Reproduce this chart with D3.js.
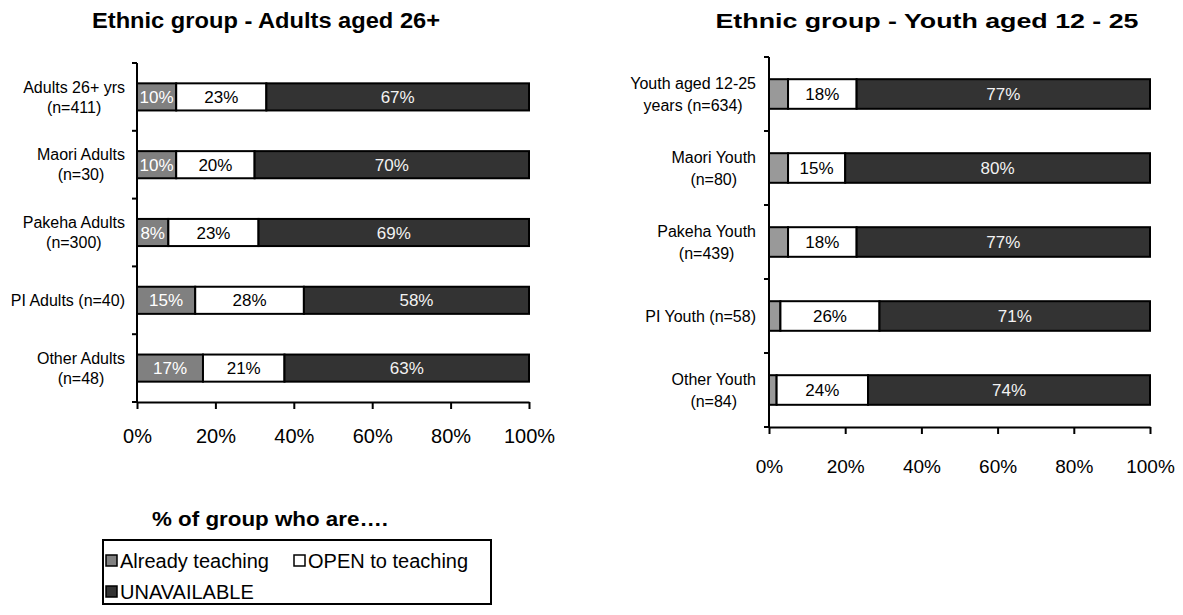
<!DOCTYPE html>
<html>
<head>
<meta charset="utf-8">
<script src="https://cdn.jsdelivr.net/npm/d3@7"></script>
<style>
  html, body { margin: 0; padding: 0; background: #fff; }
  svg { display: block; font-family: "Liberation Sans", Arial, sans-serif; }
</style>
</head>
<body>
<svg id="chart" width="1183" height="615"></svg>
<script>
// ---------- DATA ----------
const seriesNames = ["Already teaching", "OPEN to teaching", "UNAVAILABLE"];

const adultCategories = ["Adults 26+ yrs\n(n=411)", "Maori Adults\n(n=30)", "Pakeha Adults\n(n=300)", "PI Adults (n=40)", "Other Adults\n(n=48)"];
const adultAlready = [10, 10, 8, 15, 17];
const adultOpen = [23, 20, 23, 28, 21];
const adultUnavailable = [67, 70, 69, 58, 63];

const youthCategories = ["Youth aged 12-25\nyears (n=634)", "Maori Youth\n(n=80)", "Pakeha Youth\n(n=439)", "PI Youth (n=58)", "Other Youth\n(n=84)"];
const youthAlready = [5, 5, 5, 3, 2];
const youthOpen = [18, 15, 18, 26, 24];
const youthUnavailable = [77, 80, 77, 71, 74];

const xTickValues = [0, 20, 40, 60, 80, 100];
const xTickLabels = ["0%", "20%", "40%", "60%", "80%", "100%"];

const titles = ["Ethnic group - Adults aged 26+", "Ethnic group - Youth aged 12 - 25"];
const legendTitle = "% of group who are….";

// ---------- STYLE ----------
const colors = ["#808080", "#ffffff", "#333333"];
const youthColors = ["#999999", "#ffffff", "#333333"];
const labelColors = ["#ffffff", "#000000", "#f2f2f2"];

const svg = d3.select("#chart");

function drawPanel(cfg) {
  const rows = cfg.categories.map((c, i) => {
    const vals = [cfg.already[i], cfg.open[i], cfg.unavailable[i]];
    const total = d3.sum(vals);
    let cum = 0;
    const segs = vals.map((v, k) => {
      const s = { k, v, x0: cum / total * 100, x1: (cum + v) / total * 100 };
      cum += v;
      return s;
    });
    return { cat: c, segs };
  });

  const x = d3.scaleLinear().domain([0, 100]).range([cfg.x0, cfg.x1]);
  const y = d3.scaleBand().domain(cfg.categories).range([cfg.yTop, cfg.yBot])
    .paddingInner(0.6).paddingOuter(0.3);

  const g = svg.append("g");

  // title
  g.append("text").attr("x", cfg.titleX).attr("y", cfg.titleY)
    .attr("text-anchor", "middle").attr("font-weight", "bold")
    .attr("font-size", cfg.titleSize).attr("fill", "#000")
    .attr("textLength", cfg.titleW).attr("lengthAdjust", "spacingAndGlyphs")
    .text(cfg.title);

  // bars
  const rowG = g.selectAll("g.row").data(rows).join("g").attr("class", "row");
  rowG.selectAll("rect").data(d => d.segs.map(s => ({ ...s, cat: d.cat })))
    .join("rect")
    .attr("x", d => x(d.x0))
    .attr("y", d => y(d.cat))
    .attr("width", d => x(d.x1) - x(d.x0))
    .attr("height", y.bandwidth())
    .attr("fill", d => cfg.colors[d.k])
    .attr("stroke", "#000").attr("stroke-width", 2);

  rowG.selectAll("text.val").data(d => d.segs.map(s => ({ ...s, cat: d.cat })).filter(s => s.k > 0 || cfg.grayLabels))
    .join("text").attr("class", "val")
    .attr("x", d => (x(d.x0) + x(d.x1)) / 2)
    .attr("y", d => y(d.cat) + y.bandwidth() / 2)
    .attr("dy", "0.36em")
    .attr("text-anchor", "middle")
    .attr("font-size", cfg.valSize)
    .attr("fill", d => labelColors[d.k])
    .text(d => d.v + "%");

  // y axis line
  g.append("line").attr("x1", cfg.x0).attr("x2", cfg.x0)
    .attr("y1", cfg.yTop).attr("y2", cfg.yBot + 1)
    .attr("stroke", "#000").attr("stroke-width", 2);
  // y axis ticks at band boundaries
  const step = y.step();
  const bounds = cfg.categories.map(c => y(c) - (step - y.bandwidth()) / 2).concat([cfg.yBot]);
  g.selectAll("line.ytick").data(bounds).join("line").attr("class", "ytick")
    .attr("x1", cfg.x0 - 5).attr("x2", cfg.x0).attr("y1", d => d).attr("y2", d => d)
    .attr("stroke", "#000").attr("stroke-width", 2);

  // category labels (multi-line, centered block, right aligned)
  cfg.categories.forEach(c => {
    const lines = c.split("\n");
    const cy = y(c) + y.bandwidth() / 2;
    const t = g.append("text").attr("font-size", cfg.catSize).attr("fill", "#000")
      .attr("text-anchor", "middle");
    const spans = lines.map((ln, i) => t.append("tspan")
      .attr("y", cy + (i - (lines.length - 1) / 2) * cfg.lineH)
      .attr("dy", "0.36em").text(ln));
    const maxW = d3.max(spans, s => s.node().getComputedTextLength());
    spans.forEach(s => s.attr("x", cfg.labelRight - maxW / 2));
  });

  // x axis
  const xAxis = d3.axisBottom(x).tickValues(xTickValues)
    .tickFormat((d, i) => xTickLabels[i]).tickSize(7).tickSizeOuter(0);
  const ax = g.append("g").attr("transform", `translate(0,${cfg.yBot})`).call(xAxis);
  ax.select(".domain").attr("stroke", "#000").attr("stroke-width", 2);
  ax.selectAll(".tick line").attr("stroke", "#000").attr("stroke-width", 2);
  ax.selectAll(".tick text").attr("font-size", cfg.tickSize).attr("fill", "#000")
    .attr("font-family", "Liberation Sans, Arial, sans-serif")
    .attr("y", cfg.tickLabelDy).attr("dy", "0.36em");
  ax.attr("font-family", null);
}

drawPanel({
  title: titles[0], titleX: 266, titleY: 28, titleSize: 22, titleW: 348,
  categories: adultCategories, already: adultAlready, open: adultOpen, unavailable: adultUnavailable,
  x0: 137, x1: 529, yTop: 63, yBot: 402, colors: colors, grayLabels: true,
  valSize: 17, catSize: 16, lineH: 20, labelRight: 125, tickSize: 20, tickLabelDy: 34
});

drawPanel({
  title: titles[1], titleX: 927, titleY: 28, titleSize: 21, titleW: 423,
  categories: youthCategories, already: youthAlready, open: youthOpen, unavailable: youthUnavailable,
  x0: 769, x1: 1150, yTop: 57, yBot: 427, colors: youthColors, grayLabels: false,
  valSize: 17, catSize: 16, lineH: 22, labelRight: 756, tickSize: 19, tickLabelDy: 39
});

// ---------- LEGEND ----------
const lg = svg.append("g");
lg.append("text").attr("x", 270).attr("y", 526).attr("text-anchor", "middle")
  .attr("font-weight", "bold").attr("font-size", 20)
  .attr("textLength", 236).attr("lengthAdjust", "spacingAndGlyphs").text(legendTitle);
lg.append("rect").attr("x", 103).attr("y", 540).attr("width", 388).attr("height", 64)
  .attr("fill", "#fff").attr("stroke", "#000").attr("stroke-width", 2);
const legendPos = [[106, 561], [294, 561], [106, 592]];
const li = lg.selectAll("g.li").data(seriesNames).join("g").attr("class", "li")
  .attr("transform", (d, i) => `translate(${legendPos[i][0]},${legendPos[i][1]})`);
li.append("rect").attr("x", 0).attr("y", -6).attr("width", 11).attr("height", 11)
  .attr("fill", (d, i) => colors[i]).attr("stroke", "#000").attr("stroke-width", 1.5);
li.append("text").attr("x", 14).attr("y", 0).attr("dy", "0.36em")
  .attr("font-size", 20).text(d => d);
</script>
</body>
</html>
